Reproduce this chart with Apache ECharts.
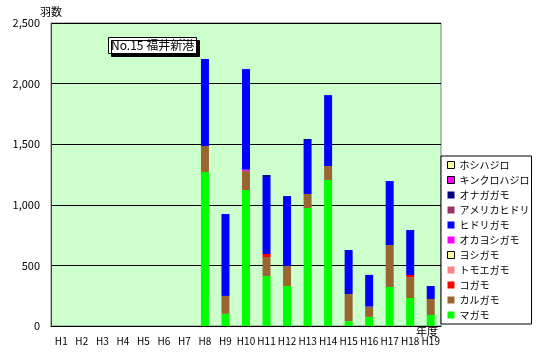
<!DOCTYPE html>
<html><head><meta charset="utf-8">
<script src="https://cdn.jsdelivr.net/npm/echarts@6/dist/echarts.min.js"></script>
<style>html,body{margin:0;padding:0;background:#fff}#c{width:545px;height:360px}</style>
</head><body><div id="c"></div>
<script>
const categories = ['H1','H2','H3','H4','H5','H6','H7','H8','H9','H10','H11','H12','H13','H14','H15','H16','H17','H18','H19'];
const magamo      = [0,0,0,0,0,0,0,1270,100,1122,412,330,973,1205,40,75,322,231,91];
const karugamo    = [0,0,0,0,0,0,0,215,148,158,157,165,116,115,224,85,346,173,132];
const kogamo      = [0,0,0,0,0,0,0,0,0,0,25,0,0,0,0,0,0,17,0];
const tomoegamo   = [0,0,0,0,0,0,0,0,0,0,0,0,0,0,0,0,0,0,0];
const yoshigamo   = [0,0,0,0,0,0,0,0,0,0,0,0,0,0,0,0,0,0,0];
const okayoshigamo= [0,0,0,0,0,0,0,0,0,10,0,0,0,0,0,0,0,0,0];
const hidorigamo  = [0,0,0,0,0,0,0,718,676,830,635,577,446,585,363,262,528,371,107];
const amerikahidori=[0,0,0,0,0,0,0,0,0,0,0,0,0,0,0,0,0,0,0];
const onagagamo   = [0,0,0,0,0,0,0,0,0,0,17,0,8,0,0,0,0,0,0];
const kinkurohajiro=[0,0,0,0,0,0,0,0,0,0,0,0,0,0,0,0,0,0,0];
const hoshihajiro = [0,0,0,0,0,0,0,0,0,0,0,0,0,0,0,0,0,0,0];
const yTicks = [0,500,1000,1500,2000,2500];

const seriesDefs = [
  ['マガモ', magamo, '#00FF00', false],
  ['カルガモ', karugamo, '#996633', false],
  ['コガモ', kogamo, '#FF0000', false],
  ['トモエガモ', tomoegamo, '#FF8080', false],
  ['ヨシガモ', yoshigamo, '#FFFF99', true],
  ['オカヨシガモ', okayoshigamo, '#FF00FF', false],
  ['ヒドリガモ', hidorigamo, '#0000FF', false],
  ['アメリカヒドリ', amerikahidori, '#993366', false],
  ['オナガガモ', onagagamo, '#000080', false],
  ['キンクロハジロ', kinkurohajiro, '#FF00FF', true],
  ['ホシハジロ', hoshihajiro, '#FFFF99', true]
];
const font = "'Noto Sans CJK JP', sans-serif";
const chart = echarts.init(document.getElementById('c'), null, {renderer:'canvas'});
chart.setOption({
  animation: false,
  backgroundColor: '#fff',
  title: {
    text: 'No.15 福井新港', left: 108, top: 37,
    backgroundColor: '#fff', borderColor: '#000', borderWidth: 1,
    padding: [1, 3, 1, 3],
    shadowColor: '#000', shadowOffsetX: 3, shadowOffsetY: 3, shadowBlur: 0,
    textStyle: {fontSize: 12, fontWeight: 'normal', color: '#000', fontFamily: font, lineHeight: 15}
  },
  legend: {
    orient: 'vertical', left: 441, top: 156,
    backgroundColor: '#fff', borderColor: '#000', borderWidth: 1,
    padding: [3, 2, 3, 6],
    itemWidth: 7, itemHeight: 7, itemGap: 3,
    icon: 'rect',
    textStyle: {fontSize: 10, color: '#000', fontFamily: font, lineHeight: 12},
    data: seriesDefs.slice().reverse().map(d => ({
      name: d[0],
      itemStyle: d[3] ? {borderColor: '#000', borderWidth: 1} : {borderWidth: 0}
    }))
  },
  grid: {left: 51, right: 104, top: 23, bottom: 34, show: true, backgroundColor: '#CCFFCC', borderColor: '#808080', borderWidth: 1},
  xAxis: {
    type: 'category', data: categories,
    name: '年度', nameLocation: 'end', nameGap: -25, nameMoveOverlap: false,
    nameTextStyle: {fontSize: 11, color: '#000', fontFamily: font, verticalAlign: 'top', padding: [0,0,0,0]},
    axisLine: {lineStyle: {color: '#000'}},
    axisTick: {inside: true, length: 3, lineStyle: {color: '#000'}},
    axisLabel: {fontSize: 10, color: '#000', margin: 10, fontFamily: font, interval: 0}
  },
  yAxis: {
    type: 'value', min: 0, max: 2500, interval: 500,
    name: '羽数', nameGap: 6, nameMoveOverlap: false,
    nameTextStyle: {fontSize: 11, color: '#000', fontFamily: font},
    axisLine: {show: true, lineStyle: {color: '#404040'}},
    axisTick: {show: false},
    splitLine: {lineStyle: {color: '#000', width: 1}},
    axisLabel: {fontSize: 11, color: '#000', margin: 11, fontFamily: font,
      formatter: v => yTicks.includes(v) ? v.toLocaleString('en-US') : ''}
  },
  series: seriesDefs.map(d => ({
    name: d[0], type: 'bar', stack: 'total', data: d[1], barWidth: 8,
    itemStyle: {color: d[2]}
  }))
});
</script></body></html>
